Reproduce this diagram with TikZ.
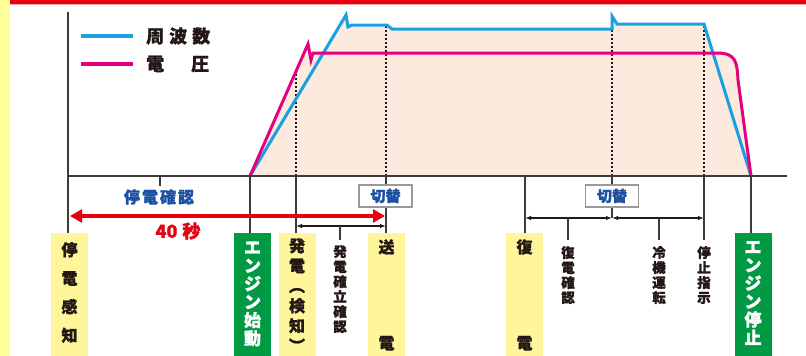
\documentclass[tikz,border=0pt]{standalone}
\usepackage{fontspec}
\setmainfont{Noto Sans CJK JP}[BoldFeatures={FakeBold=1.2}]
\usetikzlibrary{arrows.meta}
\definecolor{cblue}{HTML}{1AA0E0}
\definecolor{cmag}{HTML}{E4007F}
\definecolor{cred}{HTML}{E60012}
\definecolor{cpink}{HTML}{F6A5A5}
\definecolor{cpeach}{HTML}{FCEADF}
\definecolor{cyel}{HTML}{FFF59B}
\definecolor{cstrip}{HTML}{FFFF99}
\definecolor{cgreen}{HTML}{009A44}
\definecolor{cdark}{HTML}{3E3A39}
\definecolor{ctext}{HTML}{231815}
\definecolor{cnavy}{HTML}{1D50A2}
\begin{document}
\begin{tikzpicture}[x=1pt,y=-1pt,
  axisline/.style={cdark, line width=1.6pt},
  guide/.style={ctext, line width=1.7pt, dash pattern=on 2.5pt off 1.5pt},
  ybox/.style={fill=cyel, minimum width=37pt, minimum height=124pt, anchor=north, inner sep=0pt},
  gbox/.style={fill=cgreen, minimum width=37pt, minimum height=124pt, anchor=north, inner sep=0pt},
  vtext/.style={align=center, inner sep=0pt, text=ctext, font=\bfseries},
  kbox/.style={draw=gray!80, line width=1.2pt, fill=white, minimum width=53pt, minimum height=22pt, inner sep=0pt, text=cnavy, font=\bfseries\fontsize{15}{15}\selectfont},
  thinarrow/.style={ctext, line width=1.5pt, {Latex[length=6pt,width=4.5pt]}-{Latex[length=6pt,width=4.5pt]}},
  bigarrow/.style={cred, line width=4pt, {Triangle[length=12pt,width=13pt]}-{Triangle[length=12pt,width=13pt]}}
]
\useasboundingbox (0,0) rectangle (806,356);
% frame
\fill[cstrip] (0,0) rectangle (10,356);
\fill[cred] (10,0) rectangle (806,4);
\fill[cpink] (10,4) rectangle (806,5.2);

% area fills
\fill[cpeach] (250,176) -- (346,15) -- (348,27) -- (352,25) -- (387,25) -- (392,29) -- (612,29) -- (612,16) -- (617,24) -- (704,24) -- (751,176) -- cycle;
\fill[cpeach] (250,176) -- (308,44) -- (311,60) -- (313,53) -- (717,53) .. controls (736,53) and (737,62) .. (738,80) -- (751,176) -- cycle;

% axis coordinates
\coordinate (o) at (68,176);
\coordinate (ytop) at (68,12);
\coordinate (xend) at (787,176);
\coordinate (a160) at (160,176);
\coordinate (a250) at (250,176);
\coordinate (a296) at (296,176);
\coordinate (a386) at (386,176);
\coordinate (a525) at (525,176);
\coordinate (a612) at (612,176);
\coordinate (a704) at (704,176);
\coordinate (a751) at (751,176);
\coordinate (c296) at (296,71);
\coordinate (c386) at (386,25);
\coordinate (c612) at (612,29);
\coordinate (c704) at (704,24);

% guides
\draw[guide] (a296) -- (c296);
\draw[guide] (a386) -- (c386);
\draw[guide] (a612) -- (c612);
\draw[guide] (a704) -- (c704);

% curves
\draw[cblue, line width=3pt, line join=miter] (250,176) -- (346,15) -- (348,27) -- (352,25) -- (387,25) -- (392,29) -- (612,29) -- (612,16) -- (617,24) -- (704,24) -- (751,176);
\draw[cmag, line width=3pt, line join=miter] (250,176) -- (308,44) -- (311,60) -- (313,53) -- (717,53) .. controls (736,53) and (737,62) .. (738,80) -- (751,176);

% legend
\coordinate (lb1) at (81,36); \coordinate (lb2) at (133,36);
\coordinate (lm1) at (81,64); \coordinate (lm2) at (133,64);
\draw[cblue, line width=3.5pt] (lb1) -- (lb2);
\draw[cmag, line width=3.5pt] (lm1) -- (lm2);
\node[anchor=west, inner sep=0pt, text=ctext, font=\bfseries\fontsize{18}{18}\selectfont] (lgb) at (146,36) {周\hspace{5pt}波\hspace{5pt}数};
\node[anchor=west, inner sep=0pt, text=ctext, font=\bfseries\fontsize{18}{18}\selectfont] (lgm) at (146,64) {電\hspace{27pt}圧};

% boxes
\node[ybox] (kanchi) at (69.5,233) {};
\node[gbox] (shidou) at (252.5,233) {};
\node[ybox] (kenchi) at (297,233) {};
\node[ybox] (souden) at (386.5,233) {};
\node[ybox] (fukuden) at (524.5,233) {};
\node[gbox] (teishi) at (753,233) {};

% vertical lines below axis
\draw[axisline] (ytop) -- (kanchi.north -| o);
\draw[axisline] (o) -- (xend);
\draw[axisline] (a160) -- ++(0,10);
\draw[axisline] (a250) -- (shidou.north -| a250);
\draw[axisline] (a296) -- (kenchi.north -| a296);
\draw[axisline] (a386) -- (souden.north -| a386);
\draw[axisline] (a525) -- (fukuden.north -| a525);
\coordinate (m612) at (612,218);
\draw[axisline] (a612) -- (m612);
\coordinate (e704) at (704,240);
\draw[axisline] (a704) -- (e704);
\draw[axisline] (a751) -- (teishi.north -| a751);

% switch boxes
\node[kbox] (kiri1) at (385.5,196) {切替};
\node[kbox] (kiri2) at (612,196) {切替};

% labels upper
\node[inner sep=0pt, text=cnavy, font=\bfseries\fontsize{16}{16}\selectfont] (teiden) at (159,197) {停\hspace{2pt}電\hspace{2pt}確\hspace{2pt}認};

% red arrow
\coordinate (r1) at (70,216); \coordinate (r2) at (385,216);
\draw[bigarrow] (r1) -- (r2);
\node[inner sep=0pt, text=cred, font=\bfseries\fontsize{18}{18}\selectfont] (sec) at (178,231) {40\hspace{5pt}秒};

% thin arrows
\coordinate (h1a) at (296,226); \coordinate (h1b) at (386,226);
\draw[thinarrow] (h1a) -- (h1b);
\coordinate (t340) at (340,226);
\draw[axisline] (t340) -- ++(0,14);
\coordinate (h2a) at (525,218); \coordinate (h2c) at (704,218);
\draw[thinarrow] (h2a) -- (m612);
\draw[thinarrow] (m612) -- (h2c);
\coordinate (t568) at (568,218); \coordinate (t659) at (659,218);
\draw[axisline] (t568) -- ++(0,22);
\draw[axisline] (t659) -- ++(0,22);

% box texts
\node[vtext, font=\bfseries\fontsize{16}{28.5}\selectfont] (tkanchi) at (69.5,292.5) {停\\電\\感\\知};
\node[vtext, text=white, font=\bfseries\fontsize{17}{18.2}\selectfont] (tshidou) at (252.5,294) {エ\\ン\\ジ\\ン\\始\\動};
\node[vtext, font=\bfseries\fontsize{16}{20}\selectfont] (tkenchi) at (297,295) {発\\電\\︵\\検\\知\\︶};
\node[vtext, font=\bfseries\fontsize{16}{96}\selectfont] (tsouden) at (386.5,295) {送\\電};
\node[vtext, font=\bfseries\fontsize{16}{96}\selectfont] (tfukuden) at (524.5,295) {復\\電};
\node[vtext, text=white, font=\bfseries\fontsize{17}{18.2}\selectfont] (tteishi) at (753,293) {エ\\ン\\ジ\\ン\\停\\止};

% small vertical texts
\node[vtext, anchor=north, font=\bfseries\fontsize{13.5}{15}\selectfont] (tkakuritsu) at (340,245) {発\\電\\確\\立\\確\\認};
\node[vtext, anchor=north, font=\bfseries\fontsize{13.5}{15}\selectfont] (tfkakunin) at (568,246) {復\\電\\確\\認};
\node[vtext, anchor=north, font=\bfseries\fontsize{13.5}{15}\selectfont] (treiki) at (659,246) {冷\\機\\運\\転};
\node[vtext, anchor=north, font=\bfseries\fontsize{13.5}{15}\selectfont] (tshiji) at (704,246) {停\\止\\指\\示};
\end{tikzpicture}
\end{document}
